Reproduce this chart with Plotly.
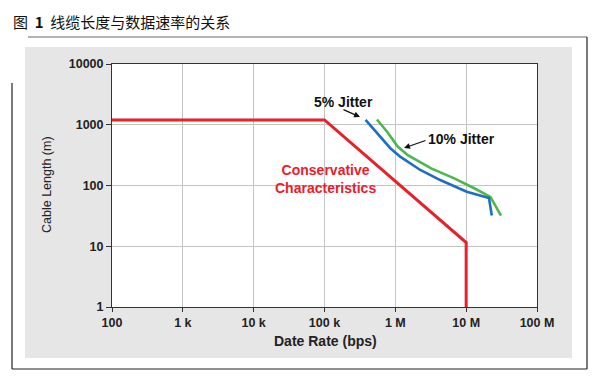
import plotly.graph_objects as go

# ---- data ----
x_ticks = [1e2, 1e3, 1e4, 1e5, 1e6, 1e7, 1e8]
x_ticktext = ["100", "1 k", "10 k", "100 k", "1 M", "10 M", "100 M"]
y_ticks = [1, 10, 100, 1000, 10000]
y_ticktext = ["1", "10", "100", "1000", "10000"]

conservative_rate = [1e2, 1e5, 1e7, 1e7]
conservative_len = [1200, 1200, 11.5, 1]

jitter5_rate = [3.8e5, 5.5e5, 8.5e5, 1.17e6, 2.25e6, 4.3e6, 1.02e7, 2.1e7, 2.3e7]
jitter5_len = [1205, 726, 411, 298, 180, 123, 79, 62, 32]

jitter10_rate = [5.5e5, 7.8e5, 1.08e6, 1.5e6, 3.2e6, 6.8e6, 1.3e7, 2.2e7, 3.1e7]
jitter10_len = [1220, 746, 437, 316, 191, 131, 90, 65, 32]

# page body has an 8px margin; figure is offset accordingly
OFF = 8
W, H = 600 - OFF, 381 - OFF
PL, PR, PT, PB = 112, 537, 64, 307  # plot area in window pixels
PW, PH = PR - PL, PB - PT
ML, MT = PL - OFF, PT - OFF
MR, MB = W - ML - PW, H - MT - PH


def px(X):
    return (X - PL) / PW


def py(Y):
    return (PB - Y) / PH


FONT = "Arial, Liberation Sans, sans-serif"

fig = go.Figure()
fig.add_trace(go.Scatter(x=conservative_rate, y=conservative_len, mode="lines",
                         line=dict(color="#e8202a", width=3), showlegend=False))
fig.add_trace(go.Scatter(x=jitter10_rate, y=jitter10_len, mode="lines",
                         line=dict(color="#4cb84a", width=2.6), showlegend=False))
fig.add_trace(go.Scatter(x=jitter5_rate, y=jitter5_len, mode="lines",
                         line=dict(color="#1e6fc1", width=2.6), showlegend=False))

shapes = [
    dict(type="rect", xref="paper", yref="paper", x0=px(25), x1=px(572), y0=py(358), y1=py(47),
         fillcolor="#e6e6e6", line=dict(width=0), layer="below"),
    dict(type="rect", xref="paper", yref="paper", x0=0, x1=1, y0=0, y1=1,
         fillcolor="white", line=dict(width=0), layer="below"),
    dict(type="line", xref="paper", yref="paper", x0=px(28), x1=px(587), y0=py(37), y1=py(37),
         line=dict(color="#b4b4b4", width=2)),
    dict(type="line", xref="paper", yref="paper", x0=px(587), x1=px(587), y0=py(37), y1=py(369),
         line=dict(color="#222222", width=1.2)),
    dict(type="line", xref="paper", yref="paper", x0=px(12), x1=px(12), y0=py(83), y1=py(369),
         line=dict(color="#222222", width=1.2)),
    dict(type="line", xref="paper", yref="paper", x0=px(12), x1=px(587), y0=py(369), y1=py(369),
         line=dict(color="#222222", width=1.2)),
]

annotations = [
    dict(text="图  <b>1</b>  线缆长度与数据速率的关系", xref="paper", yref="paper",
         x=px(11), y=py(8.5), xanchor="left", yanchor="top", showarrow=False,
         font=dict(family="Noto Sans CJK SC", size=15, color="#111111")),
    dict(text="Date Rate (bps)", xref="paper", yref="paper", x=px(325), y=py(341),
         xanchor="center", yanchor="middle", showarrow=False,
         font=dict(family=FONT, size=14, color="#222222", weight="bold")),
    dict(text="Cable Length (m)", xref="paper", yref="paper", x=px(47), y=py(185),
         xanchor="center", yanchor="middle", showarrow=False, textangle=-90,
         font=dict(family=FONT, size=12.5, color="#222222")),
    dict(text="5% Jitter", xref="paper", yref="paper", x=px(343), y=py(102),
         xanchor="center", yanchor="middle", showarrow=False,
         font=dict(family=FONT, size=14, color="#111111", weight="bold")),
    dict(text="", xref="paper", yref="paper", x=px(360), y=py(117), ax=-18, ay=-8,
         showarrow=True, arrowhead=2, arrowsize=1, arrowwidth=1.2, arrowcolor="#111111"),
    dict(text="10% Jitter", xref="paper", yref="paper", x=px(461), y=py(139),
         xanchor="center", yanchor="middle", showarrow=False,
         font=dict(family=FONT, size=14, color="#111111", weight="bold")),
    dict(text="", xref="paper", yref="paper", x=px(404), y=py(148), ax=23, ay=-8,
         showarrow=True, arrowhead=2, arrowsize=1, arrowwidth=1.2, arrowcolor="#111111"),
    dict(text="Conservative<br>Characteristics", xref="paper", yref="paper", x=px(325), y=py(179),
         xanchor="center", yanchor="middle", showarrow=False,
         font=dict(family=FONT, size=14, color="#e8202a", weight="bold")),
]

fig.update_layout(
    width=W, height=H,
    margin=dict(l=ML, r=MR, t=MT, b=MB),
    paper_bgcolor="white", plot_bgcolor="white",
    shapes=shapes, annotations=annotations,
    showlegend=False,
)
fig.update_xaxes(type="log", range=[2, 8], tickvals=x_ticks, ticktext=x_ticktext,
                 showgrid=True, gridcolor="#c4c4c4", gridwidth=1,
                 showline=True, linecolor="#333333", linewidth=1, mirror=True,
                 ticks="outside", ticklen=4, tickcolor="#333333",
                 tickfont=dict(family=FONT, size=12.5, color="#222222", weight="bold"),
                 zeroline=False)
fig.update_yaxes(type="log", range=[0, 4], tickvals=y_ticks, ticktext=y_ticktext,
                 showgrid=True, gridcolor="#c4c4c4", gridwidth=1,
                 showline=True, linecolor="#333333", linewidth=1, mirror=True,
                 ticks="outside", ticklen=5, tickcolor="#333333",
                 tickfont=dict(family=FONT, size=12.5, color="#222222", weight="bold"),
                 zeroline=False)

fig.write_html("out.html")
